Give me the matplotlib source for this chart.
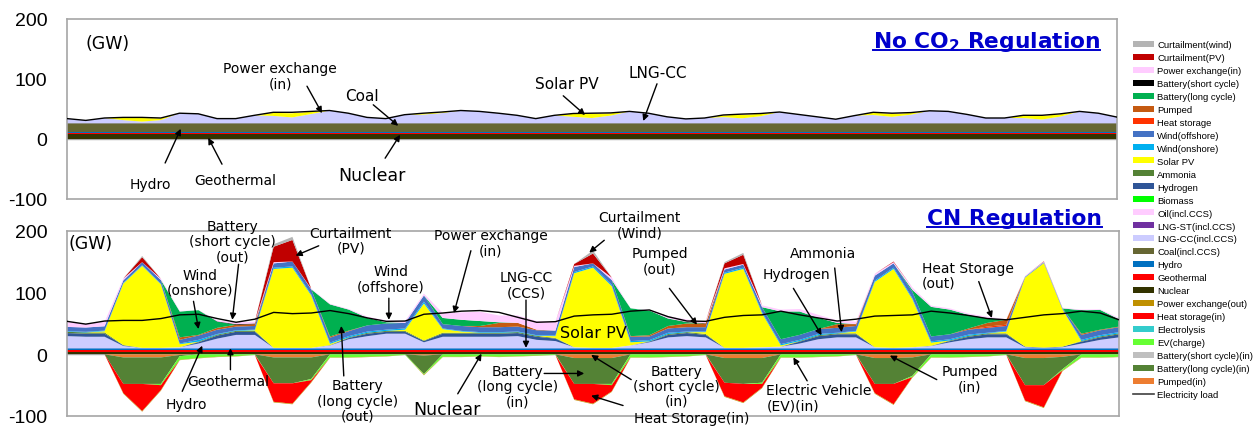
import numpy as np
import matplotlib
matplotlib.use('Agg')
import matplotlib.pyplot as plt
from matplotlib.lines import Line2D
from matplotlib.patches import Patch
from matplotlib.transforms import IdentityTransform

plt.rcParams['font.family'] = 'DejaVu Sans'
plt.rcParams['axes.unicode_minus'] = False

# one week, 3-hour steps
hours = np.arange(0, 169, 3)

# ---- No CO2 regulation (GW) ----
nc_nuclear = 8.0
nc_geothermal = 2.0
nc_hydro = 2.5
nc_coal = 13.5
nc_lngcc = [8, 5, 9, 5.5, 3, 5.5, 17, 16,
            8, 8, 13.5, 12.5, 10, 15.5, 21.5, 17,
            10, 8, 14.5, 14.7, 17.2, 21.5, 20, 17,
            13.5, 8, 13.5, 11, 9, 13, 20, 17,
            11, 7.5, 9, 10.5, 8.5, 12, 19, 15,
            11, 7, 13, 14, 11, 14.5, 21, 20,
            15, 9, 9, 9, 6.5, 11.5, 20, 17,
            10.5]
nc_solar = [0, 0, 0, 4, 6, 3, 0, 0,
            0, 0, 0, 5, 7, 4, 0, 0,
            0, 0, 0, 2, 1.5, 0, 0, 0,
            0, 0, 0, 5, 7, 4, 0, 0,
            0, 0, 0, 3, 6, 4, 0, 0,
            0, 0, 0, 4, 5, 3, 0, 0,
            0, 0, 0, 4, 6, 4, 0, 0,
            0]
nc_pex_in = [0, 0, 0, 0.5, 1, 0.5, 0, 0,
             0, 0, 0, 1, 1.5, 0.5, 0, 0,
             0, 0, 0, 0.3, 0.3, 0, 0, 0,
             0, 0, 0, 0.5, 1, 0.5, 0, 0,
             0, 0, 0, 0.5, 1, 0.5, 0, 0,
             0, 0, 0, 0.5, 1, 0.5, 0, 0,
             0, 0, 0, 0.5, 1, 0.5, 0, 0,
             0]
nc_load = [34, 31, 35, 36, 36, 35, 43, 42,
           34, 34, 39.5, 44.5, 44.5, 46, 47.5, 43,
           36, 34, 40.5, 43, 45, 47.5, 46, 43,
           39.5, 34, 39.5, 42.5, 43, 43.5, 46, 43,
           37, 33.5, 35, 40, 41.5, 42.5, 45, 41,
           37, 33, 39, 44.5, 43, 44, 47, 46,
           41, 35, 35, 39.5, 39.5, 42, 46, 43,
           36.5]

# ---- CN regulation (GW) ----
cn_nuclear = 4.0
cn_geothermal = 2.5
cn_hydro = 3.0
cn_lngcc = [20, 19, 19, 4, 1, 1, 2, 8,
            16, 22, 22, 1, 1, 1, 5, 15,
            20, 24, 24, 10, 19, 19, 19, 19,
            20, 14, 12, 2, 1, 1, 5, 10,
            18, 20, 18, 1, 1, 2, 3, 8,
            15, 18, 18, 2, 1, 2, 4, 10,
            15, 18, 18, 2, 1, 2, 8, 14,
            18]
cn_hydrogen = [5, 5, 5, 1, 0, 0, 0, 2,
               5, 5, 5, 0, 0, 0, 0, 2,
               4, 3, 3, 2, 5, 5, 5, 5,
               5, 5, 4, 0, 0, 0, 0, 1,
               4, 5, 4, 0, 0, 0, 0, 3,
               5, 5, 5, 0, 0, 0, 0, 2,
               4, 5, 5, 1, 0.5, 1, 3, 4,
               5]
cn_ammonia = [2, 2, 2, 0.5, 0, 0, 0, 1,
              1.5, 1.5, 1.5, 0, 0, 0, 0.5, 1,
              1.5, 1.5, 1.5, 1, 1.5, 1.5, 1.5, 1.5,
              1.5, 1.5, 1, 0, 0, 0, 0, 0.5,
              1.5, 1.5, 1.5, 0, 0, 0, 0, 1,
              1.5, 1.5, 1.5, 0, 0, 0, 0.5, 1,
              1.5, 1.5, 1.5, 0, 0, 0, 1, 1.5,
              1.5]
cn_solar = [0, 0, 2, 100, 133, 103, 5, 0,
            0, 0, 1, 128, 130, 85, 2, 0,
            0, 0, 2, 60, 6, 2, 0, 0,
            0, 0, 3, 120, 130, 100, 5, 0,
            0, 0, 3, 120, 128, 55, 2, 0,
            0, 0, 3, 106, 128, 78, 5, 0,
            0, 0, 3, 112, 137, 60, 0, 0,
            0]
cn_wind_on = [1, 1, 1, 1, 1, 1, 1, 3,
              1, 1, 1, 2, 2, 2, 2, 2,
              2, 2, 2, 3, 1, 1, 1, 1,
              1, 1, 1, 2, 2, 2, 2, 2,
              2, 1, 1, 2, 2, 2, 2, 2,
              2, 1, 1, 2, 2, 2, 2, 2,
              2, 1, 1, 0.5, 0.5, 0.5, 2, 2,
              2]
cn_wind_off = [7, 7, 7, 4, 5, 6, 6, 7,
               7, 6, 6, 7, 8, 8, 8, 8,
               10, 10, 9, 10, 7, 8, 8, 8,
               8, 8, 8, 8, 5, 8, 7, 6,
               7, 7, 7, 5, 5, 8, 8, 8,
               8, 8, 8, 8, 7, 10, 8, 8,
               8, 8, 8, 1, 1, 1.5, 8, 8,
               8]
cn_heat_out = [0, 0, 0, 0, 0, 0, 0, 0,
               0, 0, 0, 0, 0, 0, 0, 0,
               0, 0, 0, 0, 0, 0, 0, 0,
               0, 0, 0, 0, 0, 0, 0, 0,
               0, 0, 0, 0, 0, 0, 0, 0,
               0, 0, 0, 0, 0, 0, 0, 0,
               0, 2, 2, 0, 0, 0, 0, 0,
               0]
cn_pumped_out = [0, 0, 0, 0, 0, 0, 4, 1,
                 3, 3, 3, 0, 0, 0, 2, 1,
                 0, 0, 0, 0, 0, 0, 2, 7,
                 6, 1, 0, 0, 0, 0, 1, 2,
                 4, 6, 6, 0, 0, 0, 0, 0,
                 0, 6, 3, 0, 0, 0, 0, 0,
                 2, 6, 8, 0, 0, 0, 2, 1,
                 1]
cn_batt_long = [0, 0, 0, 0, 0, 0, 42, 40,
                10, 0, 0, 0, 0, 0, 52, 34,
                12, 2, 0, 0, 10, 10, 8, 1,
                0, 0, 0, 0, 0, 0, 45, 40,
                12, 2, 0, 0, 0, 0, 45, 38,
                18, 2, 0, 0, 0, 3, 48, 40,
                22, 8, 0, 0, 0, 0, 38, 32,
                12]
cn_batt_short = [0, 0, 0, 0, 0, 0, 0, 0,
                 0.5, 1, 1, 0, 0, 0, 0, 0,
                 0, 0, 0, 0, 0, 0, 0, 0,
                 0, 0, 0, 0, 0, 0, 0, 0,
                 0, 0.5, 0.5, 0, 0, 0, 0, 0,
                 0, 0, 0, 0, 0, 0, 0, 0,
                 0, 0, 0, 0, 0, 0, 0, 0,
                 0]
cn_pex_in = [8, 6, 7, 3, 0, 2, 1, 0,
             2, 3, 3, 2, 0, 1, 1, 1,
             2, 3, 3, 3, 8, 12, 15, 11,
             12, 14, 14, 2, 0, 4, 0, 1,
             4, 4, 3, 2, 1, 3, 3, 4,
             5, 4, 4, 3, 2, 4, 2, 2,
             2, 2, 1, 1, 1, 1, 1, 1,
             2]
cn_curt_pv = [0, 0, 0, 0, 8, 0, 0, 0,
              0, 0, 0, 25, 35, 0, 0, 0,
              0, 0, 0, 0, 0, 0, 0, 0,
              0, 0, 0, 3, 16, 0, 0, 0,
              0, 0, 0, 8, 15, 0, 0, 0,
              0, 0, 0, 0, 1, 0, 0, 0,
              0, 0, 0, 0, 0.5, 0, 0, 0,
              0]
cn_curt_wind = [0, 0, 0, 0, 2, 0, 0, 0,
                0, 0, 0, 4, 5, 0, 0, 0,
                0, 0, 0, 0, 0, 0, 0, 0,
                0, 0, 0, 0, 5, 0, 0, 0,
                0, 0, 0, 2, 3, 0, 0, 0,
                0, 0, 0, 0, 0, 0, 0, 0,
                0, 0, 0, 0, 0, 0, 0, 0,
                0]
# charging side (drawn below zero)
cn_pumped_in = [0, 0, 0, 5, 5, 5, 1, 0,
                0, 0, 0, 5, 5, 5, 0, 0,
                0, 0, 0, 2, 0, 0, 0, 0,
                0, 0, 0, 6, 6, 6, 0, 0,
                0, 0, 0, 6, 6, 6, 0, 0,
                0, 0, 0, 6, 6, 5, 0, 0,
                0, 0, 0, 6, 6, 4, 0, 0,
                0]
cn_batt_long_in = [0, 0, 0, 43, 43, 43, 2, 0,
                   0, 0, 0, 42, 42, 35, 0, 0,
                   0, 0, 0, 30, 0, 0, 0, 0,
                   0, 0, 0, 42, 42, 42, 0, 0,
                   0, 0, 0, 40, 42, 40, 0, 0,
                   0, 0, 0, 42, 42, 30, 0, 0,
                   0, 0, 0, 44, 44, 20, 0, 0,
                   0]
cn_ev = [0, 0, 0, 0, 0, 2, 6, 6,
         4, 3, 1, 0, 0, 2, 5, 5,
         4, 3, 1, 1, 4, 4, 3, 4,
         3, 2, 1, 0, 0, 2, 5, 5,
         4, 3, 1, 0, 0, 2, 5, 5,
         4, 3, 1, 0, 0, 2, 5, 5,
         4, 3, 1, 0, 0, 2, 5, 5,
         4]
cn_heat_in = [0, 0, 0, 15, 44, 8, 0, 0,
              0, 0, 0, 30, 33, 3, 0, 0,
              0, 0, 0, 0, 0, 0, 0, 0,
              0, 0, 0, 25, 32, 10, 0, 0,
              0, 0, 0, 22, 30, 6, 0, 0,
              0, 0, 0, 15, 33, 0, 0, 0,
              0, 0, 0, 25, 36, 0, 0, 0,
              0]
cn_pex_out = [0, 0, 0, 1, 1, 1, 0.5, 0.5,
              0.5, 0.5, 0, 1, 1, 1, 0.5, 0.5,
              0.5, 0.5, 0, 1, 0.5, 0.5, 0.5, 0.5,
              0.5, 0.5, 0, 1, 1, 1, 0.5, 0.5,
              0.5, 0.5, 0, 1, 1, 1, 0.5, 0.5,
              0.5, 0.5, 0, 1, 1, 1, 0.5, 0.5,
              0.5, 0.5, 0, 1, 1, 1, 0.5, 0.5,
              0.5]
cn_load = [53.5, 49, 54, 55, 55, 58, 64, 65,
           58, 52, 57, 68, 66, 67, 71, 66,
           59, 53.5, 54, 65, 67, 70, 71, 68,
           60, 52, 53, 62, 64, 65, 70, 72,
           61, 54, 53.5, 60, 63, 64, 70, 64,
           59, 54, 57, 62, 63, 64, 70, 67,
           63, 58, 56, 60, 64, 66, 70, 67,
           56]

legend_labels = ['Curtailment(wind)', 'Curtailment(PV)', 'Power exchange(in)',
                 'Battery(short cycle)', 'Battery(long cycle)', 'Pumped', 'Heat storage',
                 'Wind(offshore)', 'Wind(onshore)', 'Solar PV', 'Ammonia', 'Hydrogen',
                 'Biomass', 'Oil(incl.CCS)', 'LNG-ST(incl.CCS)', 'LNG-CC(incl.CCS)',
                 'Coal(incl.CCS)', 'Hydro', 'Geothermal', 'Nuclear',
                 'Power exchange(out)', 'Heat storage(in)', 'Electrolysis', 'EV(charge)',
                 'Battery(short cycle)(in)', 'Battery(long cycle)(in)', 'Pumped(in)']
legend_colors = ['#b4b4b4', '#c00000', '#ffccff', '#000000', '#00b050', '#c55a11',
                 '#ff3300', '#4472c4', '#00b0f0', '#ffff00', '#548235', '#2f5597',
                 '#00ff00', '#ffccff', '#7030a0', '#ccccff', '#666633', '#0070c0',
                 '#ff0000', '#333300', '#bf9000', '#ff0000', '#33cccc', '#66ff33',
                 '#bfbfbf', '#548235', '#ed7d31']
col = dict(zip(legend_labels, legend_colors))


def flat(v):
    return np.full(len(hours), v)


fig = plt.figure(figsize=(12.57, 4.27), dpi=100)
ax1 = fig.add_axes([67 / 1257, 1 - 200 / 427, 1050 / 1257, 180 / 427])
ax2 = fig.add_axes([67 / 1257, 1 - 417 / 427, 1052 / 1257, 185 / 427])

for ax in (ax1, ax2):
    ax.set_xlim(0, 168)
    ax.set_ylim(-100, 200)
    ax.set_xticks([])
    ax.set_yticks([-100, 0, 100, 200])
    ax.tick_params(axis='y', length=0, pad=14, labelsize=14)
    for lab in ax.get_yticklabels():
        lab.set_fontfamily('Liberation Sans')
    for s in ax.spines.values():
        s.set_color('#a6a6a6')
        s.set_linewidth(1.2)
    ax.axhline(0, color='#a6a6a6', lw=1, zorder=0.5)

# top panel
ax1.stackplot(hours, flat(nc_nuclear), flat(nc_geothermal), flat(nc_hydro), flat(nc_coal),
              nc_lngcc, nc_solar, nc_pex_in,
              colors=[col['Nuclear'], col['Geothermal'], col['Hydro'], col['Coal(incl.CCS)'],
                      col['LNG-CC(incl.CCS)'], col['Solar PV'], col['Power exchange(in)']],
              lw=0, zorder=2)
ax1.plot(hours, nc_load, color='k', lw=1, zorder=3)

# bottom panel, supply side
ax2.stackplot(hours, flat(cn_nuclear), flat(cn_geothermal), flat(cn_hydro), cn_lngcc,
              cn_hydrogen, cn_ammonia, cn_solar, cn_wind_on, cn_wind_off, cn_heat_out,
              cn_pumped_out, cn_batt_long, cn_batt_short, cn_pex_in, cn_curt_pv, cn_curt_wind,
              colors=[col['Nuclear'], col['Geothermal'], col['Hydro'], col['LNG-CC(incl.CCS)'],
                      col['Hydrogen'], col['Ammonia'], col['Solar PV'], col['Wind(onshore)'],
                      col['Wind(offshore)'], col['Heat storage'], col['Pumped'],
                      col['Battery(long cycle)'], col['Battery(short cycle)'],
                      col['Power exchange(in)'], col['Curtailment(PV)'], col['Curtailment(wind)']],
              lw=0, zorder=2)
# charging side
neg = [cn_pumped_in, cn_batt_long_in, cn_ev, cn_heat_in, cn_pex_out]
ax2.stackplot(hours, *[-np.array(s, dtype=float) for s in neg],
              colors=[col['Pumped(in)'], col['Battery(long cycle)(in)'], col['EV(charge)'],
                      col['Heat storage(in)'], col['Power exchange(out)']],
              lw=0, zorder=2)
ax2.plot(hours, cn_load, color='k', lw=1, zorder=3)


def note(ax, text, pos, tail=None, tip=None, size=10, ha='center'):
    ax.text(pos[0], pos[1], text, ha=ha, va='center', fontsize=size,
            linespacing=1.1, zorder=10, clip_on=False)
    if tip is not None:
        ax.annotate('', xy=tip, xytext=tail, annotation_clip=False, zorder=11,
                    arrowprops=dict(arrowstyle='-|>', color='k', lw=1,
                                    mutation_scale=9, shrinkA=0, shrinkB=0))


note(ax1, '(GW)', (2.9, 160), size=12.5, ha='left')
note(ax1, 'Power exchange\n(in)', (34.1, 105), (38.4, 88), (40.8, 43))
note(ax1, 'Coal', (47.2, 73), (49, 57), (53, 22), size=11)
note(ax1, 'Hydro', (13.4, -75), (15.7, -40), (18.2, 17))
note(ax1, 'Geothermal', (26.9, -68), (24.8, -42), (22.6, 2))
note(ax1, 'Nuclear', (48.8, -60), (50.9, -32), (53.3, 7), size=12.5)
note(ax1, 'Solar PV', (80, 92), (79.4, 72), (82.9, 40), size=11)
note(ax1, 'LNG-CC', (94.6, 110), (94.4, 92), (92.2, 30), size=11)

note(ax2, '(GW)', (0.2, 180), size=12.5, ha='left')
note(ax2, 'Battery\n(short cycle)\n(out)', (26.4, 183), (27.4, 146), (26.4, 56))
note(ax2, 'Curtailment\n(PV)', (45.3, 185), (40.2, 176), (36.5, 160))
note(ax2, 'Wind\n(onshore)', (21.3, 117), (20.2, 86), (21, 41))
note(ax2, 'Wind\n(offshore)', (51.7, 123), (51.4, 91), (51.4, 56))
note(ax2, 'Power exchange\n(in)', (67.7, 181), (64.5, 168), (61.8, 67))
note(ax2, 'Curtailment\n(Wind)', (91.4, 210), (85.8, 185), (83.4, 165))
note(ax2, 'LNG-CC\n(CCS)', (73.3, 113), (73.3, 88), (73.3, 10.5))
note(ax2, 'Solar PV', (84, 36), size=11.5)
note(ax2, 'Pumped\n(out)', (94.7, 152), (96.2, 107), (100.6, 48))
note(ax2, 'Ammonia', (120.8, 164), (122.6, 140), (123.7, 36))
note(ax2, 'Hydrogen', (116.5, 130), (116, 107), (120.5, 31))
note(ax2, 'Heat Storage\n(out)', (136.5, 128), (145.6, 118), (147.7, 59), ha='left')
note(ax2, 'Geothermal', (25.8, -44), (26.1, -25), (26.1, 10))
note(ax2, 'Hydro', (19, -81), (18.4, -60), (21.6, 14))
note(ax2, 'Battery\n(long cycle)\n(out)', (46.4, -75), (44.2, -35), (43.8, 46))
note(ax2, 'Nuclear', (60.6, -89), (62.4, -64), (66.2, 1), size=12.5)
note(ax2, 'Battery\n(long cycle)\n(in)', (71.9, -52), (76.2, -31), (82.6, -31))
note(ax2, 'Battery\n(short cycle)\n(in)', (97.3, -51), (90.1, -41), (83.7, -1))
note(ax2, 'Heat Storage(in)', (99.7, -103), (88.8, -83), (83.7, -67))
note(ax2, 'Electric Vehicle\n(EV)(in)', (111.7, -70), (118.2, -43), (116, -5), ha='left')
note(ax2, 'Pumped\n(in)', (144.2, -40), (138.9, -41), (131.4, -2))

title_blue = '#0000cc'
t1 = ax1.text(165.3, 152.8, r'No CO$_\mathbf{2}$ Regulation', ha='right', va='baseline',
              fontsize=15.7, fontweight='bold', color=title_blue)
t2 = ax2.text(165.3, 211, 'CN Regulation', ha='right', va='baseline',
              fontsize=15.7, fontweight='bold', color=title_blue, clip_on=False)

handles = [Patch(facecolor=c, edgecolor='none') for c in legend_colors]
handles.append(Line2D([], [], color='#404040', lw=1.2))
fig.legend(handles, legend_labels + ['Electricity load'], loc='upper left',
           bbox_to_anchor=(1133 / 1257, 1 - 41 / 427), frameon=False,
           prop={'family': 'Liberation Sans', 'size': 6.8}, handlelength=2.2,
           handleheight=0.6, handletextpad=0.35, labelspacing=0.42,
           borderpad=0, borderaxespad=0)

# underline the two panel titles
fig.canvas.draw()
r = fig.canvas.get_renderer()
for t, ax in ((t1, ax1), (t2, ax2)):
    bb = t.get_window_extent(r)
    yb = ax.transData.transform(t.get_position())[1] - 2.5
    fig.add_artist(Line2D([bb.x0, bb.x1], [yb, yb], transform=IdentityTransform(),
                          color=title_blue, lw=1.4))

fig.savefig('out.png', dpi=100)
